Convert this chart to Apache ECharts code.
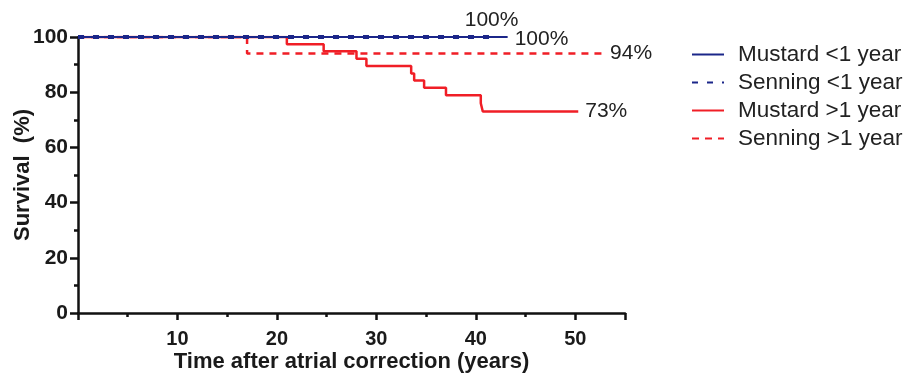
<!DOCTYPE html>
<html>
<head>
<meta charset="utf-8">
<script src="https://cdn.jsdelivr.net/npm/echarts@6/dist/echarts.min.js"></script>
<style>
  html, body { margin: 0; padding: 0; background: #fff; }
  #chart { width: 908px; height: 377px; }
</style>
</head>
<body>
<div id="chart"></div>
<script>
// Kaplan–Meier survival after atrial correction, by procedure and age at operation.
// Each series: [years, survival %] at every step; the curve is drawn as a step line.
const groupNames = ['Mustard <1 year', 'Senning <1 year', 'Mustard >1 year', 'Senning >1 year'];

const mustardUnder1 = [[0, 100], [43.2, 100]];
const senningUnder1 = [[0, 100], [42.1, 100]];
const mustardOver1 = [
  [0, 100], [21.0, 97.4], [24.7, 94.8], [28.0, 92.1], [29.0, 89.5],
  [33.5, 86.8], [33.8, 84.2], [34.8, 81.6], [37.0, 78.9], [40.5, 76.0],
  [40.7, 73], [50.3, 73]
];
const senningOver1 = [[0, 100], [17.0, 94], [52.8, 94]];

const xTickLabels = [10, 20, 30, 40, 50];
const yTickLabels = [0, 20, 40, 60, 80, 100];

const BLUE = '#1b2689';
const RED = '#f01e26';
const FONT = '"Liberation Sans", Arial, Helvetica, sans-serif';

function stepSeries(name, data, color, dashed, width, label) {
  return {
    name: name,
    type: 'line',
    step: 'end',
    data: data,
    symbol: 'none',
    lineStyle: { color: color, width: width, type: dashed ? dashed : 'solid' },
    itemStyle: { color: color },
    emphasis: { disabled: true },
    endLabel: Object.assign({
      show: true,
      formatter: p => p.value[1] + '%',
      color: '#222',
      fontSize: 21,
      fontFamily: FONT,
      distance: 7
    }, label || {})
  };
}

const chart = echarts.init(document.getElementById('chart'), null, { renderer: 'canvas' });

chart.setOption({
  animation: false,
  backgroundColor: '#fff',
  grid: { left: 78, right: 283, top: 37, bottom: 64, containLabel: false, outerBoundsMode: 'none' },
  legend: {
    data: groupNames,
    orient: 'vertical',
    left: 686,
    top: 38,
    itemWidth: 32,
    itemHeight: 14,
    itemGap: 5,
    selectedMode: false,
    // line-only keys: hide the marker that line legends draw by default
    itemStyle: { opacity: 0 },
    textStyle: {
      fontSize: 22.5,
      lineHeight: 21,
      color: '#222',
      fontFamily: FONT,
      padding: [0, 0, 0, 9]
    }
  },
  xAxis: {
    type: 'value',
    min: 0,
    max: 55,
    interval: 10,
    name: 'Time after atrial correction (years)',
    nameLocation: 'middle',
    nameGap: 38,
    nameMoveOverlap: false,
    nameTextStyle: { fontSize: 22, fontWeight: 'bold', color: '#1a1a1a', fontFamily: FONT },
    axisLine: { show: true, onZero: false, lineStyle: { color: '#111', width: 2.5 } },
    axisTick: { show: true, length: 7, lineStyle: { color: '#111', width: 2.5 } },
    minorTick: { show: true, splitNumber: 2, length: 4, lineStyle: { color: '#111', width: 2.5 } },
    splitLine: { show: false },
    axisLabel: {
      margin: 16,
      fontSize: 20,
      fontWeight: 'bold',
      color: '#1a1a1a',
      fontFamily: FONT,
      formatter: v => (xTickLabels.includes(v) ? String(v) : '')
    }
  },
  yAxis: {
    type: 'value',
    min: 0,
    max: 100,
    interval: 20,
    name: 'Survival  (%)',
    nameLocation: 'middle',
    nameGap: 44,
    nameMoveOverlap: false,
    nameRotate: 90,
    nameTextStyle: { fontSize: 22, fontWeight: 'bold', color: '#1a1a1a', fontFamily: FONT },
    axisLine: { show: true, lineStyle: { color: '#111', width: 2.5 } },
    axisTick: { show: true, length: 8, lineStyle: { color: '#111', width: 2.5 } },
    minorTick: { show: true, splitNumber: 2, length: 4, lineStyle: { color: '#111', width: 2.5 } },
    splitLine: { show: false },
    axisLabel: {
      margin: 10,
      fontSize: 21,
      fontWeight: 'bold',
      color: '#1a1a1a',
      fontFamily: FONT,
      formatter: v => (yTickLabels.includes(v) ? String(v) : '')
    }
  },
  series: [
    // red curves first so the blue curves sit on top along the 100% line
    stepSeries(groupNames[3], senningOver1, RED, [7, 6], 2.5),
    stepSeries(groupNames[2], mustardOver1, RED, null, 2.5),
    stepSeries(groupNames[0], mustardUnder1, BLUE, null, 1.8, { distance: 7, offset: [0, 2] }),
    stepSeries(groupNames[1], senningUnder1, BLUE, [6, 9], 4, { distance: 0, offset: [-32, -17] })
  ]
});
</script>
</body>
</html>
